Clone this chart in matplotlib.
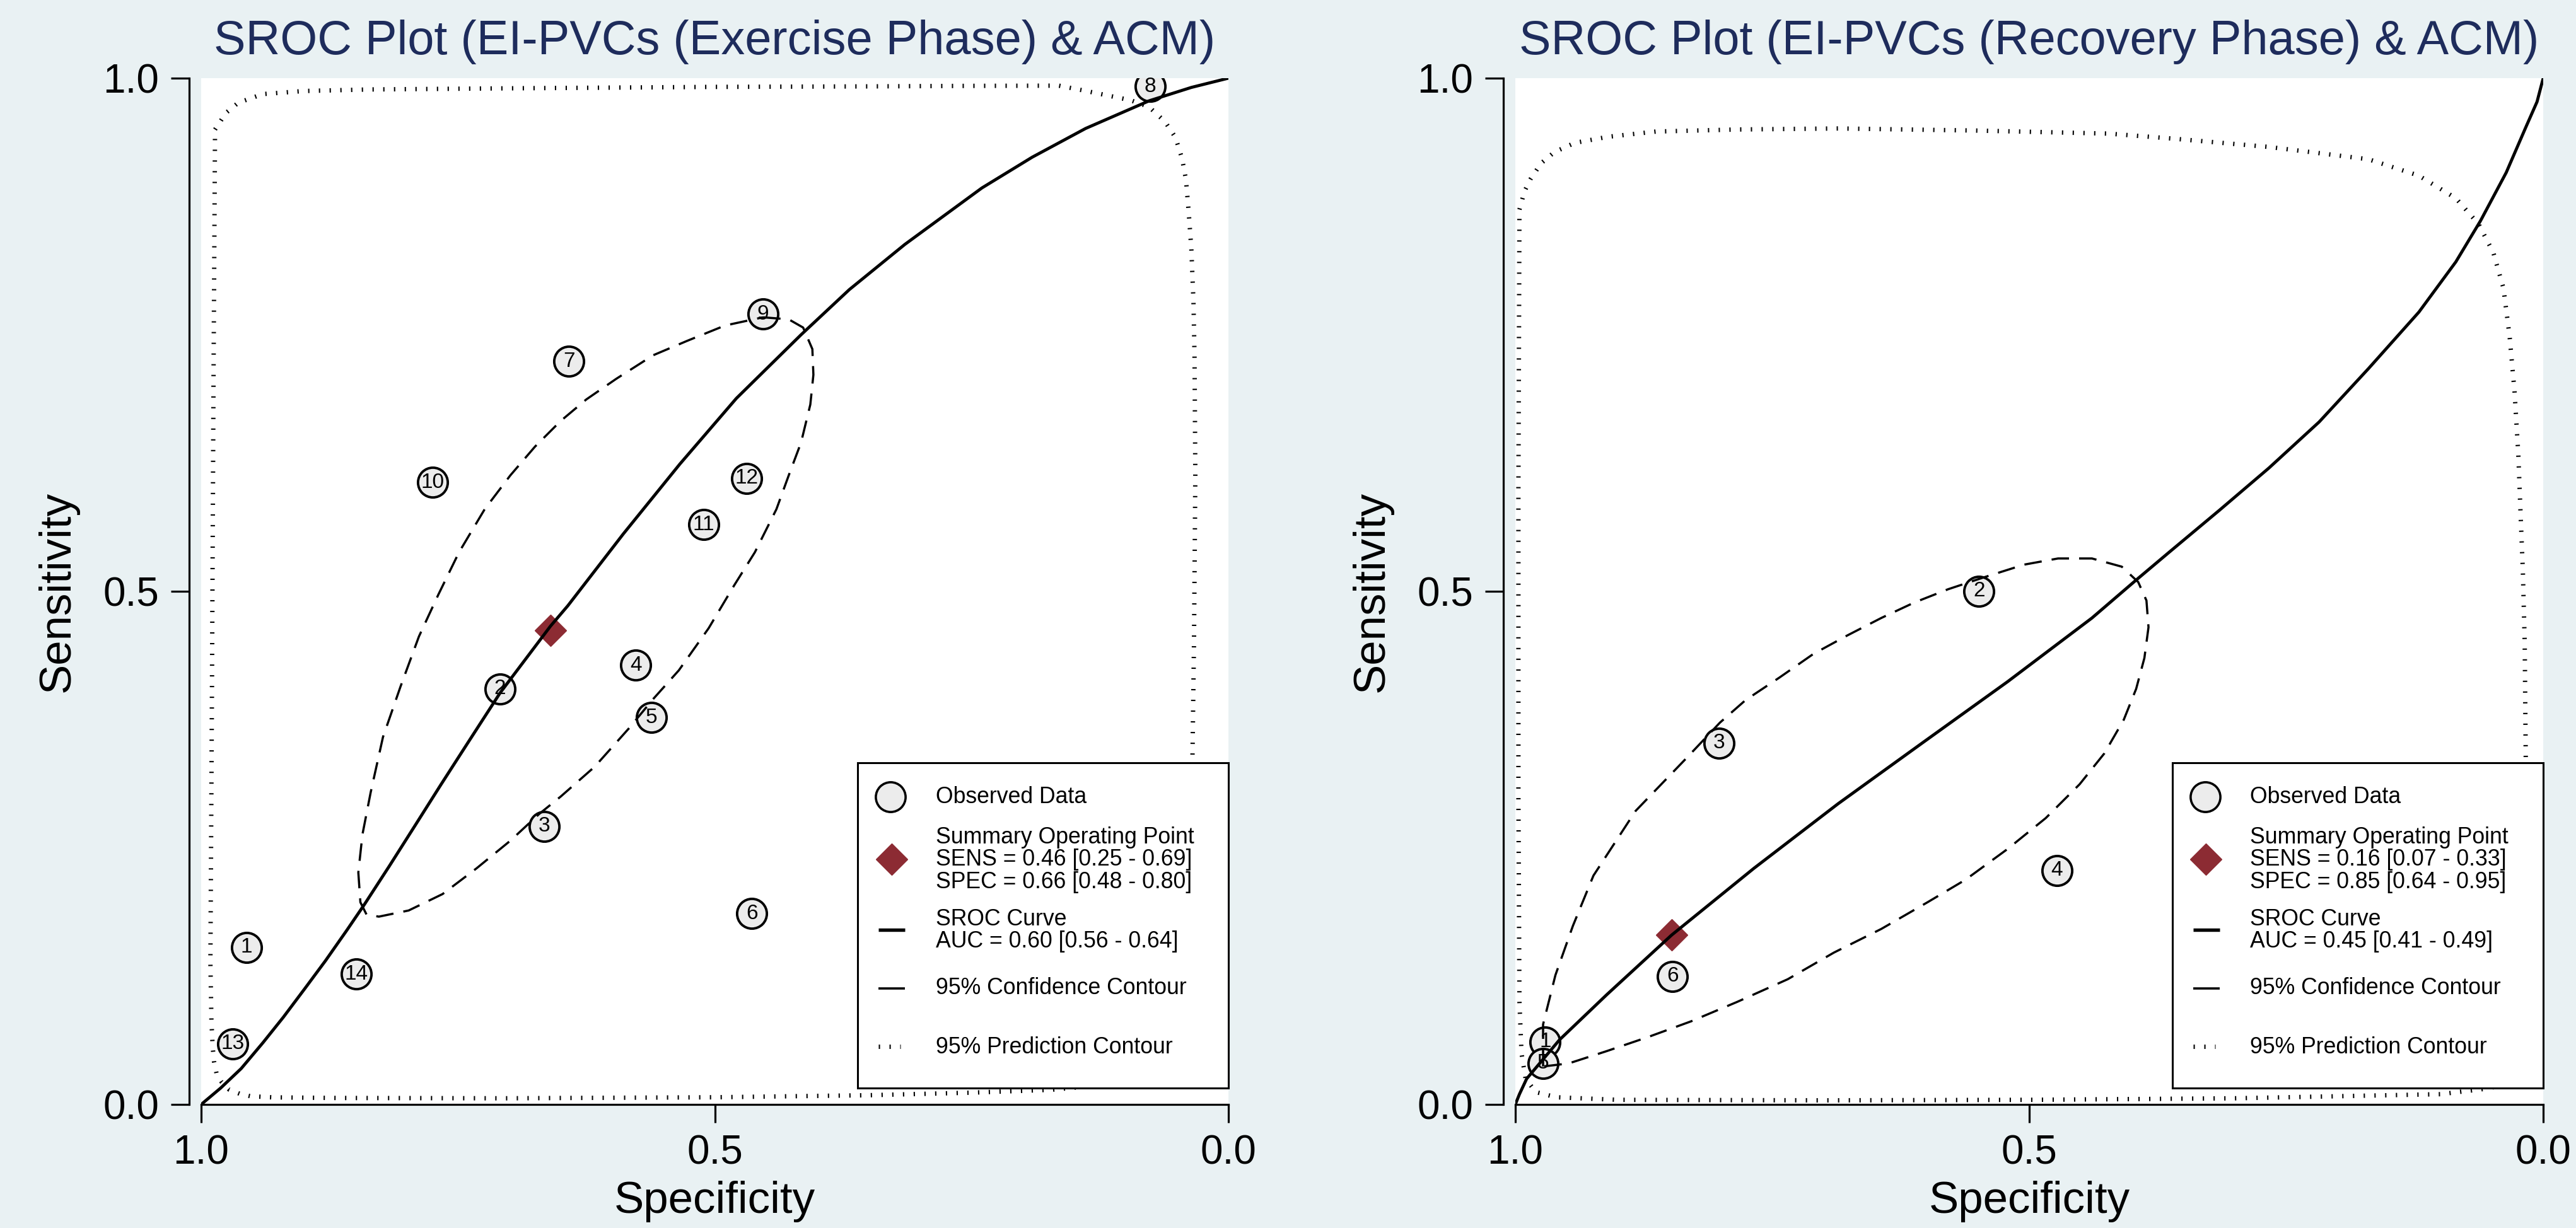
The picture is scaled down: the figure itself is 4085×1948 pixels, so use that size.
import matplotlib.pyplot as plt
from matplotlib.patches import Rectangle

plt.rcParams['font.family'] = ['Liberation Sans', 'DejaVu Sans']

BG = '#E9F1F3'
NAVY = '#1E2C5C'
RED = '#8C2B33'
FILL = '#ECECEC'

# ---- exercise phase (left panel) ----
ex_title = 'SROC Plot (EI-PVCs (Exercise Phase) & ACM)'
ex_study = [1, 2, 3, 4, 5, 6, 7, 8, 9, 10, 11, 12, 13, 14]
ex_spec = [0.956, 0.709, 0.666, 0.577, 0.562, 0.464, 0.642, 0.076, 0.453, 0.775, 0.511, 0.469, 0.969, 0.849]
ex_sens = [0.153, 0.405, 0.271, 0.428, 0.377, 0.186, 0.724, 0.992, 0.770, 0.606, 0.565, 0.610, 0.059, 0.127]
ex_sum = (0.66, 0.462)
ex_legend = ['SENS = 0.46 [0.25 - 0.69]', 'SPEC = 0.66 [0.48 - 0.80]', 'AUC = 0.60 [0.56 - 0.64]']

ex_curve_spec = [1.0, 0.981, 0.961, 0.940, 0.920, 0.899, 0.879, 0.858, 0.841, 0.817, 0.791, 0.767,
                 0.740, 0.709, 0.660, 0.643, 0.589, 0.534, 0.479, 0.416, 0.369, 0.315, 0.240,
                 0.191, 0.139, 0.077, 0.036, 0.0]
ex_curve_sens = [0.0, 0.016, 0.035, 0.060, 0.085, 0.113, 0.140, 0.170, 0.195, 0.232, 0.273, 0.311,
                 0.353, 0.401, 0.466, 0.486, 0.556, 0.624, 0.688, 0.750, 0.794, 0.838, 0.893,
                 0.923, 0.951, 0.978, 0.991, 1.0]

ex_conf_spec = [0.453, 0.428, 0.414, 0.405, 0.404, 0.407, 0.416, 0.428, 0.440, 0.461, 0.481, 0.506,
                0.535, 0.560, 0.584, 0.617, 0.650, 0.671, 0.699, 0.732, 0.765, 0.798, 0.827, 0.839,
                0.845, 0.847, 0.843, 0.835, 0.823, 0.806, 0.788, 0.769, 0.749, 0.724, 0.699, 0.675,
                0.650, 0.625, 0.596, 0.560, 0.527, 0.490]
ex_conf_sens = [0.767, 0.765, 0.757, 0.736, 0.711, 0.682, 0.645, 0.613, 0.580, 0.538, 0.506, 0.464,
                0.423, 0.395, 0.366, 0.329, 0.300, 0.283, 0.257, 0.230, 0.205, 0.189, 0.183, 0.185,
                0.197, 0.226, 0.263, 0.304, 0.358, 0.407, 0.456, 0.497, 0.538, 0.580, 0.613, 0.641,
                0.666, 0.687, 0.707, 0.730, 0.744, 0.759]

ex_pred_spec = [0.9865, 0.976, 0.964, 0.940, 0.900, 0.836, 0.716, 0.500, 0.350, 0.250, 0.165, 0.139,
                0.114, 0.0955, 0.0774, 0.0619, 0.0516, 0.0451, 0.0413, 0.0387, 0.0361, 0.034, 0.033,
                0.0322, 0.0335, 0.035, 0.037, 0.040, 0.045, 0.055, 0.075, 0.110, 0.1725, 0.250,
                0.350, 0.500, 0.705, 0.868, 0.930, 0.952, 0.9625, 0.9728, 0.980, 0.985, 0.9875,
                0.9888, 0.990, 0.991, 0.9895, 0.988]
ex_pred_sens = [0.950, 0.966, 0.976, 0.9845, 0.9875, 0.989, 0.990, 0.9915, 0.992, 0.9925, 0.9927, 0.9876,
                0.9824, 0.9786, 0.9721, 0.9578, 0.9424, 0.9217, 0.901, 0.870, 0.834, 0.782, 0.730,
                0.614, 0.45, 0.337, 0.25, 0.15, 0.09, 0.05, 0.03, 0.020, 0.0143, 0.0115,
                0.009, 0.007, 0.006, 0.0063, 0.0069, 0.008, 0.0104, 0.0145, 0.0217, 0.030, 0.042,
                0.0565, 0.081, 0.138, 0.40, 0.70]

# ---- recovery phase (right panel) ----
rc_title = 'SROC Plot (EI-PVCs (Recovery Phase) & ACM)'
rc_study = [1, 2, 3, 4, 5, 6]
rc_spec = [0.971, 0.549, 0.802, 0.473, 0.973, 0.847]
rc_sens = [0.061, 0.500, 0.352, 0.228, 0.040, 0.125]
rc_sum = (0.848, 0.165)
rc_legend = ['SENS = 0.16 [0.07 - 0.33]', 'SPEC = 0.85 [0.64 - 0.95]', 'AUC = 0.45 [0.41 - 0.49]']

rc_curve_spec = [1.0, 0.996, 0.989, 0.973, 0.957, 0.911, 0.848, 0.768, 0.686, 0.603, 0.521, 0.439,
                 0.396, 0.364, 0.315, 0.267, 0.218, 0.170, 0.121, 0.085, 0.061, 0.036, 0.017,
                 0.006, 0.0]
rc_curve_sens = [0.0, 0.010, 0.025, 0.044, 0.063, 0.107, 0.165, 0.230, 0.293, 0.353, 0.412, 0.474,
                 0.511, 0.538, 0.579, 0.620, 0.665, 0.717, 0.772, 0.821, 0.861, 0.908, 0.952,
                 0.977, 1.0]

rc_conf_spec = [0.973, 0.973, 0.961, 0.944, 0.924, 0.883, 0.858, 0.833, 0.801, 0.776, 0.743, 0.710,
                0.677, 0.644, 0.612, 0.579, 0.546, 0.505, 0.472, 0.439, 0.410, 0.394, 0.386, 0.384,
                0.388, 0.396, 0.408, 0.427, 0.451, 0.484, 0.521, 0.562, 0.599, 0.644, 0.690, 0.735,
                0.784, 0.829, 0.870, 0.911, 0.948]
rc_conf_sens = [0.037, 0.078, 0.126, 0.174, 0.223, 0.286, 0.312, 0.338, 0.372, 0.394, 0.416, 0.439,
                0.457, 0.474, 0.489, 0.502, 0.513, 0.526, 0.532, 0.532, 0.524, 0.509, 0.491, 0.465,
                0.435, 0.405, 0.375, 0.342, 0.312, 0.279, 0.249, 0.219, 0.197, 0.171, 0.148, 0.122,
                0.100, 0.081, 0.066, 0.052, 0.040]

rc_pred_spec = [0.996, 0.991, 0.985, 0.975, 0.962, 0.942, 0.909, 0.863, 0.784, 0.686, 0.554, 0.423,
                0.359, 0.267, 0.170, 0.121, 0.085, 0.063, 0.0485, 0.0387, 0.0327, 0.0279, 0.0242,
                0.0218, 0.0198, 0.018, 0.017, 0.016, 0.017, 0.020, 0.030, 0.050, 0.100, 0.200,
                0.300, 0.500, 0.700, 0.900, 0.960, 0.980, 0.990, 0.994, 0.996, 0.997, 0.997]
rc_pred_sens = [0.872, 0.890, 0.902, 0.917, 0.928, 0.937, 0.943, 0.948, 0.950, 0.951, 0.949, 0.946,
                0.941, 0.933, 0.921, 0.905, 0.883, 0.858, 0.830, 0.7955, 0.7485, 0.695, 0.633,
                0.570, 0.520, 0.45, 0.34, 0.25, 0.12, 0.06, 0.03, 0.016, 0.010, 0.008,
                0.006, 0.0045, 0.004, 0.0045, 0.007, 0.012, 0.025, 0.050, 0.100, 0.300, 0.600]


def closed(values):
    return list(values) + [values[0]]


def draw_legend(ax, texts):
    t = ax.transAxes
    ax.add_patch(Rectangle((0.639, 0.016), 0.361, 0.317, transform=t, facecolor='white',
                           edgecolor='black', lw=2.2, zorder=10, clip_on=False))
    ax.plot([0.671], [0.2998], 'o', ms=34, mfc=FILL, mec='black', mew=2.6,
            transform=t, zorder=11, clip_on=False)
    ax.plot([0.672], [0.239], 'D', ms=25, color=RED, transform=t, zorder=11, clip_on=False)
    ax.plot([0.6595, 0.685], [0.1704, 0.1704], color='black', lw=3.9, solid_capstyle='butt',
            transform=t, zorder=11, clip_on=False)
    ax.plot([0.6595, 0.685], [0.1133, 0.1133], color='black', lw=2.6, solid_capstyle='butt',
            transform=t, zorder=11, clip_on=False)
    ax.plot([0.6595, 0.681], [0.0563, 0.0563], color='black', lw=5, dashes=(0.3, 2.15),
            dash_capstyle='butt', transform=t, zorder=11, clip_on=False)
    rows = [('Observed Data', 0.2994), ('Summary Operating Point', 0.2603),
            (texts[0], 0.2384), (texts[1], 0.2165), ('SROC Curve', 0.1802),
            (texts[2], 0.1587), ('95% Confidence Contour', 0.1133),
            ('95% Prediction Contour', 0.0553)]
    for s, y in rows:
        ax.text(0.715, y, s, transform=t, fontsize=25.7, va='center', ha='left', zorder=12)


def draw_panel(ax, title, study, spec, sens, summary, legend_texts,
               curve_spec, curve_sens, conf_spec, conf_sens, pred_spec, pred_sens):
    ax.set_facecolor('white')

    ax.plot(spec, sens, 'o', ms=34, mfc=FILL, mec='black', mew=2.8, zorder=2)
    for x, y, n in zip(spec, sens, study):
        ax.text(x, y, str(n), ha='center', va='center', fontsize=24, zorder=2.1)
    ax.plot([summary[0]], [summary[1]], 'D', ms=25, color=RED, zorder=2.5)

    ax.plot(curve_spec, curve_sens, color='black', lw=3.5, zorder=4,
            solid_joinstyle='round')
    ax.plot(closed(conf_spec), closed(conf_sens), color='black', lw=2.5,
            dashes=(8, 4.6), zorder=4)
    ax.plot(closed(pred_spec), closed(pred_sens), color='black', lw=5,
            dashes=(0.3, 2.15), dash_capstyle='butt', zorder=3)

    ax.set_xlim(1, 0)
    ax.set_ylim(0, 1)
    ax.set_xticks([1.0, 0.5, 0.0])
    ax.set_yticks([0.0, 0.5, 1.0])
    ax.tick_params(length=21, width=2.3, labelsize=46, pad=13)
    for side in ['top', 'right']:
        ax.spines[side].set_visible(False)
    ax.spines['left'].set_position(('outward', 14))
    ax.spines['left'].set_linewidth(2.3)
    ax.spines['bottom'].set_linewidth(2.3)

    ax.set_title(title, fontsize=54.5, color=NAVY, pad=27)
    ax.set_xlabel('Specificity', fontsize=51, labelpad=10)
    ax.set_ylabel('Sensitivity', fontsize=51, labelpad=28)

    draw_legend(ax, legend_texts)


fig = plt.figure(figsize=(40.85, 19.48), dpi=100, facecolor=BG)
ax1 = fig.add_axes([319 / 4085, 196 / 1948, 1629 / 4085, 1628 / 1948])
ax2 = fig.add_axes([2403 / 4085, 196 / 1948, 1630 / 4085, 1628 / 1948])

draw_panel(ax1, ex_title, ex_study, ex_spec, ex_sens, ex_sum, ex_legend,
           ex_curve_spec, ex_curve_sens, ex_conf_spec, ex_conf_sens, ex_pred_spec, ex_pred_sens)
draw_panel(ax2, rc_title, rc_study, rc_spec, rc_sens, rc_sum, rc_legend,
           rc_curve_spec, rc_curve_sens, rc_conf_spec, rc_conf_sens, rc_pred_spec, rc_pred_sens)

fig.savefig('out.png', dpi=100, facecolor=BG)
